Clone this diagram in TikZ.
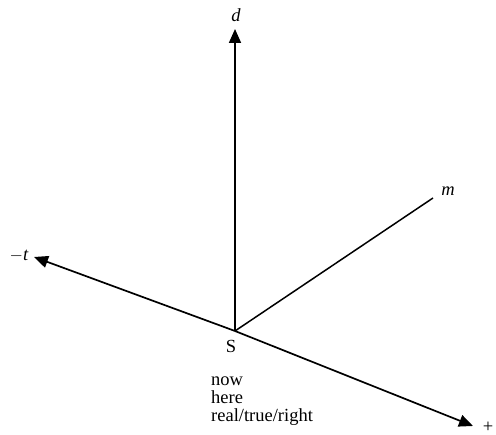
\documentclass[tikz,border=0pt]{standalone}
\usepackage{fontspec}
\setmainfont{Liberation Serif}
\usetikzlibrary{arrows.meta}
\begin{document}
\begin{tikzpicture}[x=1pt,y=-1pt,
  axis/.style={line width=1.7pt,-{Triangle[length=14pt,width=12pt]}},
  plain/.style={line width=1.5pt},
  lbl/.style={font=\fontsize{18.5}{18}\selectfont,inner sep=0pt}]
\useasboundingbox (0,0) rectangle (496,435);
\coordinate (S) at (235,331);
\coordinate (D) at (235,29);
\coordinate (T) at (34,257);
\coordinate (P) at (473,426);
\coordinate (M) at (433,198);
\draw[axis] (S) -- (D);
\draw[axis] (S) -- (T);
\draw[axis] (S) -- (P);
\draw[plain] (S) -- (M);
\node[lbl] (dl) at (236,15) {\itshape d};
\node[lbl] (tl) at (19,256) {$-$\itshape t};
\node[lbl] (ml) at (448,191) {\itshape m};
\node[lbl] (pl) at (488,427) {+};
\node[lbl] (Sl) at (231,346) {S};
\node[lbl,align=left,anchor=north west] (txt) at (211,377) {now\\here\\real/true/right};
\end{tikzpicture}
\end{document}
